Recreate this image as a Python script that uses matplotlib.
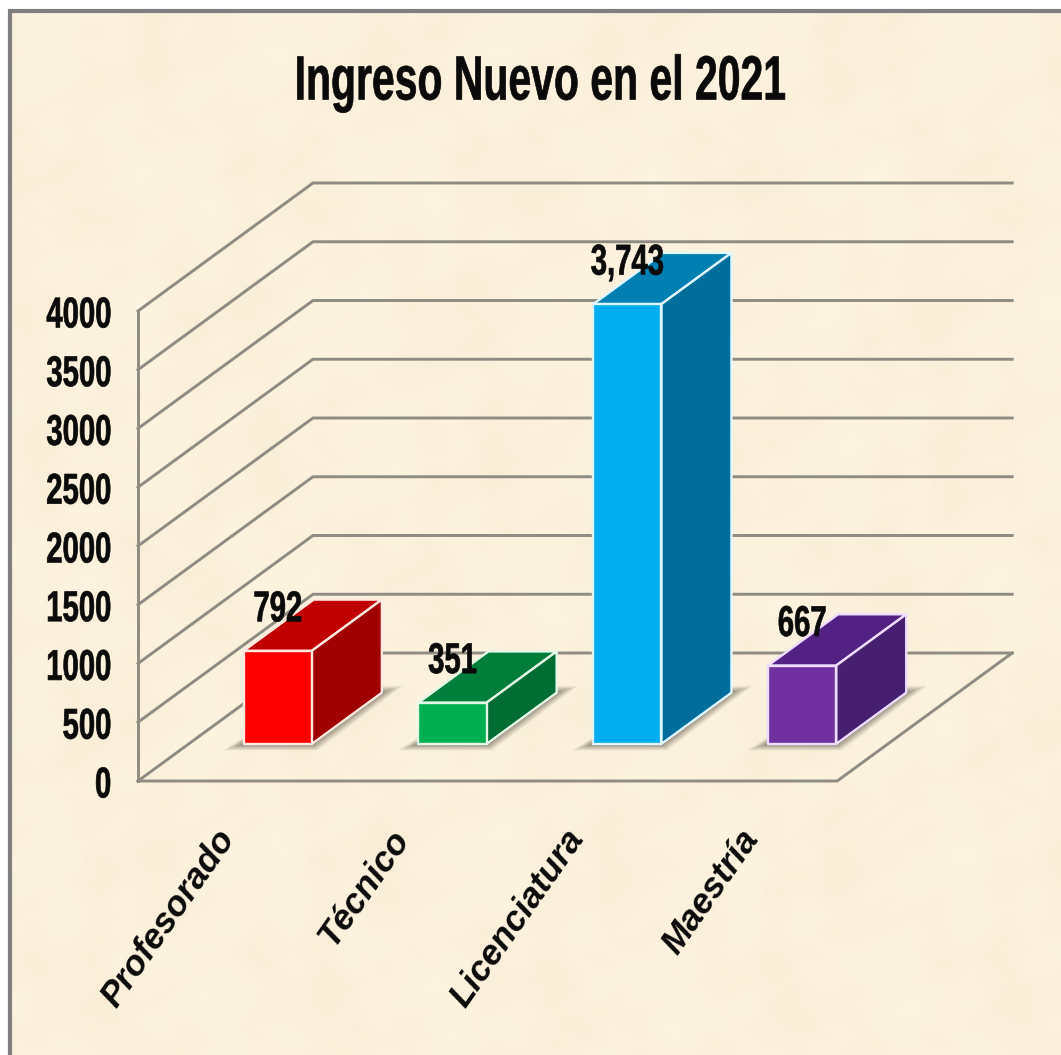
import numpy as np
import matplotlib
matplotlib.use("Agg")
import matplotlib.pyplot as plt
from matplotlib.patches import Polygon, Rectangle
from matplotlib.patheffects import AbstractPathEffect
from matplotlib.transforms import Affine2D

TITLE = "Ingreso Nuevo en el 2021"
categories = ["Profesorado", "Técnico", "Licenciatura", "Maestría"]
values = [792, 351, 3743, 667]
value_labels = ["792", "351", "3,743", "667"]
y_ticks = [0, 500, 1000, 1500, 2000, 2500, 3000, 3500, 4000]
front_colors = ["#FF0000", "#00B050", "#00AEEF", "#7030A0"]
top_colors = ["#C00000", "#007E3A", "#0080B2", "#522183"]
side_colors = ["#A00000", "#006E32", "#006E9C", "#461F70"]
edge_colors = ["#FFE8E0", "#E4F8E8", "#E0F8FF", "#EEDDFF"]

W, H = 1061, 1055
FONT = "Liberation Sans"


class Narrow(AbstractPathEffect):
    """Squeeze glyphs horizontally about a fraction of the text width."""

    def __init__(self, sx, anchor=0.5, stroke=0.0):
        super().__init__()
        self.sx, self.anchor, self.stroke = sx, anchor, stroke

    def draw_path(self, renderer, gc, tpath, affine, rgbFace=None):
        ext = tpath.get_extents()
        cx = ext.x0 + self.anchor * ext.width
        t = Affine2D().translate(-cx, 0).scale(self.sx, 1).translate(cx, 0) + affine
        gc0 = renderer.new_gc()
        gc0.copy_properties(gc)
        gc0.set_linewidth(self.stroke)
        gc0.set_foreground(rgbFace if rgbFace is not None else "black")
        renderer.draw_path(gc0, tpath, t, rgbFace)
        gc0.restore()


# projection constants (pixels)
X0, SLOT = 227.0, 174.8      # first category centre on floor front, spacing
Y0, PXV = 781.0, 0.1175      # y pixel of value 0, pixels per unit
DX, DY = 175.0, 128.0        # depth vector of floor in pixels
kx, ky = DX / SLOT, DY / PXV

fig = plt.figure(figsize=(W / 100, H / 100), dpi=100, facecolor="white")

# parchment background
bg = fig.add_axes([10 / W, 0, 1 - 10 / W, 1 - 11 / H])
yy, xx = np.mgrid[0:1044:4, 0:1051:4]
tex = (np.sin(xx / 37 + 1.3 * np.sin(yy / 61)) * np.sin(yy / 43 + 0.7)
       + 0.7 * np.sin(xx / 17 + yy / 23) * np.sin(yy / 19 - xx / 41 + 2)
       + 0.5 * np.sin(xx / 9 + np.sin(yy / 13) * 2) * np.sin(yy / 11))
base = np.array([251, 241, 220]) / 255
amp = np.array([1.5, 2.5, 4.0]) / 255
img = np.clip(base[None, None, :] + tex[..., None] * amp[None, None, :] / 1.5, 0, 1)
bg.imshow(img, aspect="auto", interpolation="bicubic")
bg.axis("off")
fig.add_artist(Rectangle((10 / W, -0.01), 1.1, 1 - 11 / H + 0.01, transform=fig.transFigure,
                         fill=False, ec="#7f7f7f", lw=3))

ax = fig.add_axes([0, 0, 1, 1])
ax.patch.set_alpha(0)
ax.axis("off")
ax.set_xlim((0 - X0) / SLOT, (W - X0) / SLOT)
ax.set_ylim(-(H - Y0) / PXV, Y0 / PXV)


def P(cat, val, depth):
    return (cat + depth * kx, val + depth * ky)


GRID = "#8d8b82"
LW = 2.1
c_left, c_right = -0.5 - (227 - 138 - SLOT / 2) / SLOT, 3.5 - (227 - 138 - SLOT / 2) / SLOT
for t in y_ticks:
    pts = [P(c_left, t, 0), P(c_left, t, 1), P(c_right, t, 1)]
    ax.plot(*zip(*pts), color=GRID, lw=LW, solid_joinstyle="miter", zorder=2)
ax.plot(*zip(P(c_left, 0, 0), P(c_left, y_ticks[-1], 0)), color=GRID, lw=LW, zorder=2)
ax.plot(*zip(P(c_left, 0, 0), P(c_right, 0, 0), P(c_right, 0, 1)), color=GRID, lw=LW,
        solid_joinstyle="miter", zorder=2)

for t in y_ticks:
    ax.text(*P(c_left - 0.15, t - 46, 0), f"{t}", ha="right", va="center", family=FONT,
            weight="bold", fontsize=31, color="#0a0a0a", zorder=8,
            path_effects=[Narrow(0.68, anchor=1.0, stroke=0.5)])

HW, D0, D1 = 0.195, 0.29, 0.69
for i, v in enumerate(values):
    # soft shadow on the floor
    for grow, alpha in [(1.0, 0.15), (0.75, 0.2), (0.5, 0.26), (0.25, 0.3)]:
        s = [P(i - HW - 0.065 * grow, 0, D0 - 0.05 * grow), P(i + HW + 0.08 * grow, 0, D0 - 0.05 * grow),
             P(i + HW + 0.065 * grow, 0, D1 + 0.05 * grow), P(i - HW, 0, D1 + 0.05 * grow)]
        ax.add_patch(Polygon(s, closed=True, fc="#6f675a", ec="none", alpha=alpha, zorder=3))
    ek = dict(ec=edge_colors[i], lw=1.7, joinstyle="round", zorder=4)
    ax.add_patch(Polygon([P(i - HW, v, D0), P(i + HW, v, D0), P(i + HW, v, D1), P(i - HW, v, D1)],
                         fc=top_colors[i], **ek))
    ax.add_patch(Polygon([P(i + HW, 0, D0), P(i + HW, 0, D1), P(i + HW, v, D1), P(i + HW, v, D0)],
                         fc=side_colors[i], **ek))
    ax.add_patch(Polygon([P(i - HW, 0, D0), P(i + HW, 0, D0), P(i + HW, v, D0), P(i - HW, v, D0)],
                         fc=front_colors[i], **ek))
    ax.text(*P(i, v + 345, D0), value_labels[i], ha="center", va="center", family=FONT,
            weight="bold", fontsize=31, color="#0a0a0a", zorder=9,
            path_effects=[Narrow(0.68, stroke=0.5)])
    ax.text(*P(i + 0.005, -440, 0), categories[i], rotation=55, rotation_mode="anchor",
            ha="right", va="center", family=FONT, weight="bold", style="italic",
            fontsize=25.5, color="#0a0a0a", zorder=8)

fig.text(540 / W, 1 - 83 / H, TITLE, ha="center", va="center", family=FONT, weight="bold",
         fontsize=45, color="#0a0a0a", path_effects=[Narrow(0.655, stroke=0.5)])

fig.savefig("out.png", dpi=100, facecolor="white")
